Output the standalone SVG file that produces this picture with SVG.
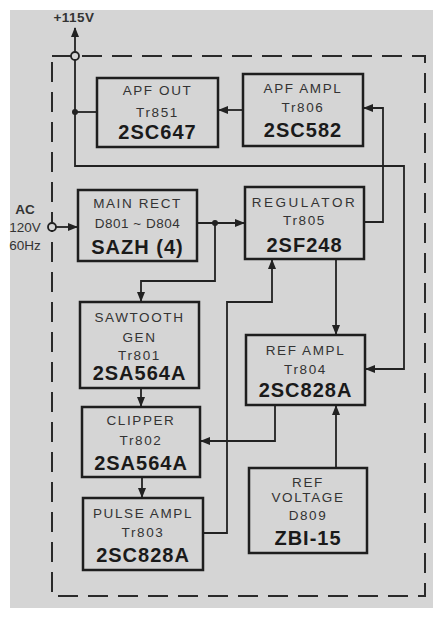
<svg xmlns="http://www.w3.org/2000/svg" width="437" height="620" viewBox="0 0 437 620">
<defs>
<style>
.box{fill:#d5d5d5;stroke:#1e1e1e;stroke-width:2.5}
.w{fill:none;stroke:#222;stroke-width:1.8}
.lbl{font-family:"Liberation Sans",Arial,sans-serif;font-size:13.5px;letter-spacing:1.6px;fill:#333;text-anchor:middle}
.pn{font-family:"Liberation Sans",Arial,sans-serif;font-size:20px;font-weight:bold;letter-spacing:1px;fill:#1a1a1a;text-anchor:middle}
.dot{fill:#222}
</style>
<marker id="ah" viewBox="0 0 10 8" refX="9" refY="4" markerWidth="10" markerHeight="8" markerUnits="userSpaceOnUse" orient="auto">
<path d="M0,0 L10,4 L0,8 Z" fill="#222"/>
</marker>
</defs>
<rect x="0" y="0" width="437" height="620" fill="#ffffff"/>
<rect x="10" y="10" width="423" height="598" fill="#d5d5d5"/>
<rect x="52" y="56" width="373" height="540" fill="none" stroke="#2a2a2a" stroke-width="2" stroke-dasharray="20 10"/>
<text x="74" y="22" class="lbl" style="font-weight:bold;letter-spacing:0.5px">+115V</text>
<text x="25" y="214" class="lbl" style="font-weight:bold;letter-spacing:0">AC</text>
<text x="25" y="232" class="lbl" style="letter-spacing:0">120V</text>
<text x="25" y="250" class="lbl" style="letter-spacing:0">60Hz</text>
<g id="connectors">
<path class="w" d="M75,52 V28" marker-end="url(#ah)"/>
<path class="w" d="M75,60 V166 H404 V369 H366" marker-end="url(#ah)"/>
<path class="w" d="M75,112 H97"/>
<circle class="dot" cx="75" cy="112" r="3"/>
<path class="w" d="M243,110 H219" marker-end="url(#ah)"/>
<path class="w" d="M364,222 H383 V108 H364" marker-end="url(#ah)"/>
<path class="w" d="M197,223 H244" marker-end="url(#ah)"/>
<circle class="dot" cx="215" cy="223" r="3"/>
<path class="w" d="M215,223 V281 H141 V301" marker-end="url(#ah)"/>
<path class="w" d="M141,388 V406" marker-end="url(#ah)"/>
<path class="w" d="M142,477 V497" marker-end="url(#ah)"/>
<path class="w" d="M203,533 H227 V302 H272 V260" marker-end="url(#ah)"/>
<path class="w" d="M336,259 V334" marker-end="url(#ah)"/>
<path class="w" d="M336,468 V406" marker-end="url(#ah)"/>
<path class="w" d="M275,405 V441 H201" marker-end="url(#ah)"/>
<path class="w" d="M56,227 H77" marker-end="url(#ah)"/>
<circle cx="75" cy="56" r="4" fill="#d5d5d5" stroke="#222" stroke-width="1.8"/>
<circle cx="52" cy="227" r="4" fill="#d5d5d5" stroke="#222" stroke-width="1.8"/>
</g>
<g id="apf-out">
<rect class="box" x="97" y="78" width="121" height="69"/>
<text class="lbl" x="157.5" y="95">APF OUT</text>
<text class="lbl" x="157.5" y="117">Tr851</text>
<text class="pn" x="157.5" y="139">2SC647</text>
</g>
<g id="apf-ampl">
<rect class="box" x="243" y="74" width="120" height="72"/>
<text class="lbl" x="303" y="93">APF AMPL</text>
<text class="lbl" x="303" y="112">Tr806</text>
<text class="pn" x="303" y="137">2SC582</text>
</g>
<g id="main-rect">
<rect class="box" x="78" y="190" width="119" height="71"/>
<text class="lbl" x="137.5" y="208">MAIN RECT</text>
<text class="lbl" x="137.5" y="228" style="letter-spacing:0.5px">D801 ~ D804</text>
<text class="pn" x="137.5" y="254">SAZH (4)</text>
</g>
<g id="regulator">
<rect class="box" x="245" y="187" width="119" height="72"/>
<text class="lbl" x="304.5" y="207" style="letter-spacing:2.5px">REGULATOR</text>
<text class="lbl" x="304.5" y="225">Tr805</text>
<text class="pn" x="304.5" y="252">2SF248</text>
</g>
<g id="sawtooth-gen">
<rect class="box" x="80" y="302" width="119" height="86"/>
<text class="lbl" x="139.5" y="322">SAWTOOTH</text>
<text class="lbl" x="139.5" y="342">GEN</text>
<text class="lbl" x="139.5" y="360">Tr801</text>
<text class="pn" x="139.5" y="380">2SA564A</text>
</g>
<g id="clipper">
<rect class="box" x="82" y="407" width="118" height="70"/>
<text class="lbl" x="141" y="425">CLIPPER</text>
<text class="lbl" x="141" y="445">Tr802</text>
<text class="pn" x="141" y="470">2SA564A</text>
</g>
<g id="pulse-ampl">
<rect class="box" x="83" y="498" width="120" height="72"/>
<text class="lbl" x="143" y="518">PULSE AMPL</text>
<text class="lbl" x="143" y="537">Tr803</text>
<text class="pn" x="143" y="562">2SC828A</text>
</g>
<g id="ref-ampl">
<rect class="box" x="246" y="335" width="119" height="70"/>
<text class="lbl" x="305.5" y="355">REF AMPL</text>
<text class="lbl" x="305.5" y="374">Tr804</text>
<text class="pn" x="305.5" y="397">2SC828A</text>
</g>
<g id="ref-voltage">
<rect class="box" x="249" y="468" width="118" height="85"/>
<text class="lbl" x="308" y="487">REF</text>
<text class="lbl" x="308" y="502">VOLTAGE</text>
<text class="lbl" x="308" y="520">D809</text>
<text class="pn" x="308" y="545">ZBI-15</text>
</g>
</svg>
